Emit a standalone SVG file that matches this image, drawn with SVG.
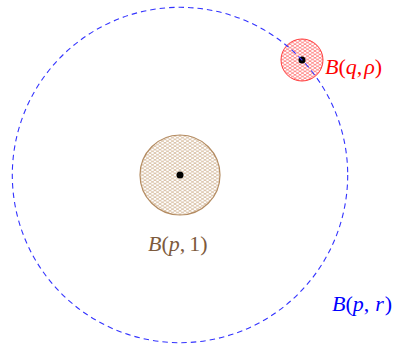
<svg xmlns="http://www.w3.org/2000/svg" width="397" height="344" viewBox="0 0 397 344">
<style>
.lbl{font-family:"Liberation Serif","Times New Roman",serif;font-size:22px}
.it{font-style:italic}
</style>
<defs>
<pattern id="hb" width="5" height="3.4" patternUnits="userSpaceOnUse">
<path d="M0,0 L5,3.4 M0,3.4 L5,0" stroke="#c8a47c" stroke-width="0.65" fill="none"/>
</pattern>
<pattern id="hr" width="5" height="3.4" patternUnits="userSpaceOnUse">
<path d="M0,0 L5,3.4 M0,3.4 L5,0" stroke="#ff5050" stroke-width="0.65" fill="none"/>
</pattern>
</defs>
<rect width="397" height="344" fill="#fff"/>
<g id="ball-p1">
<circle cx="180" cy="175" r="40" fill="url(#hb)" stroke="#b48c62" stroke-width="1.2"/>
<circle cx="180" cy="175" r="3.5" fill="#000"/>
<text class="lbl" x="148" y="251" fill="#7d5a3c"><tspan class="it">B</tspan>(<tspan class="it">p</tspan>,<tspan dx="4">1)</tspan></text>
</g>
<g id="ball-qrho">
<circle cx="302" cy="60" r="21" fill="url(#hr)" stroke="#ff3c3c" stroke-width="1"/>
<circle cx="302" cy="60" r="3.5" fill="#000"/>
<text class="lbl" x="325" y="74" fill="#ff0000"><tspan class="it">B</tspan>(<tspan class="it">q</tspan>,<tspan class="it" dx="2">ρ</tspan>)</text>
</g>
<g id="ball-pr">
<circle cx="180" cy="175" r="167.7" fill="none" stroke="#3333ff" stroke-width="1.1" stroke-dasharray="5.5,4"/>
<text class="lbl" x="332" y="311" fill="#0000ff"><tspan class="it">B</tspan>(<tspan class="it">p</tspan>,<tspan class="it" dx="6">r</tspan><tspan dx="1">)</tspan></text>
</g>
</svg>
